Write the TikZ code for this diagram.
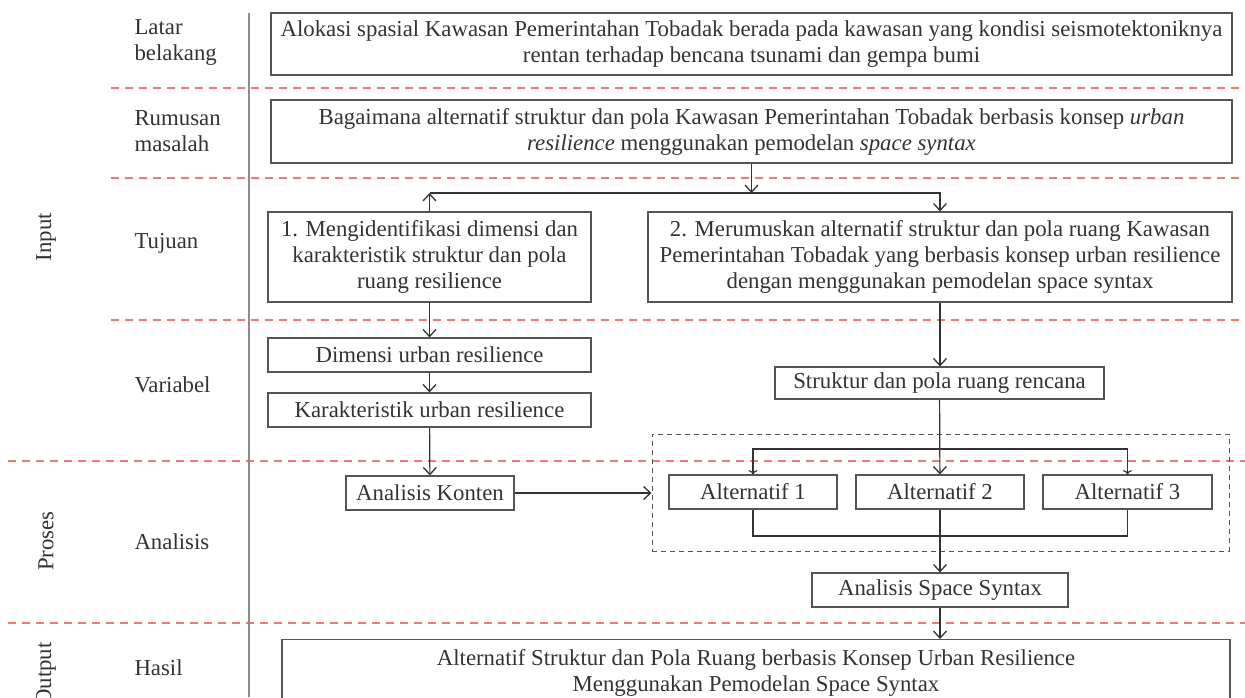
\documentclass[tikz,border=0pt]{standalone}
\usepackage{fontspec}
\setmainfont{Liberation Serif}
\usetikzlibrary{arrows.meta}
\definecolor{linegray}{HTML}{555555}
\definecolor{textgray}{HTML}{333333}
\definecolor{sepred}{HTML}{F07878}
\newcommand{\diagfont}{\fontsize{22.8}{26}\selectfont}
\tikzset{
    box/.style={
        draw=linegray,
        line width=1.2pt,
        text=textgray,
        align=center,
        inner sep=2pt,
        font=\diagfont
    },
    rowlabel/.style={
        anchor=west,
        align=left,
        text=textgray,
        font=\diagfont
    },
    partlabel/.style={
        rotate=90,
        text=textgray,
        font=\diagfont
    },
    flow/.style={
        draw=textgray,
        line width=1.2pt,
        -{Straight Barb[length=7pt,width=13pt,line width=1.3pt]}
    },
    rowline/.style={
        draw=sepred,
        dash pattern=on 8pt off 6pt,
        line width=1.3pt
    },
    groupbox/.style={
        draw=linegray,
        dash pattern=on 5pt off 4pt,
        line width=1pt,
        minimum width=577pt,
        minimum height=117pt
    }
}

\begin{document}
\begin{tikzpicture}[x=1pt,y=-1pt]

    \useasboundingbox (0,0) rectangle (1245,697);
    \clip (0,0) rectangle (1245,697);

    %% Rows and columns
    \foreach \y/\x in {88/111, 178/111, 320/111, 461/8, 623/8}
        \draw[rowline] (\x,\y) -- (1245,\y);
    \draw[draw=gray!90, line width=1.8pt] (249,13) -- (249,697);

    \node (pIn)  [partlabel] at (46,237) {Input};
    \node (pPro) [partlabel] at (46,541) {Proses};
    \node (pOut) [partlabel] at (46,674) {Output};

    \node (rLatar)  [rowlabel] at (131,42) {Latar\\belakang};
    \node (rRumus)  [rowlabel] at (131,131) {Rumusan\\masalah};
    \node (rTujuan) [rowlabel] at (131,243) {Tujuan};
    \node (rVar)    [rowlabel] at (131,385) {Variabel};
    \node (rAnal)   [rowlabel] at (131,542) {Analisis};
    \node (rHasil)  [rowlabel] at (131,668) {Hasil};

    %% Input
    \node (latar) [box,minimum width=961pt,minimum height=62pt] at (751.5,44)
        {Alokasi spasial Kawasan Pemerintahan Tobadak berada pada kawasan yang kondisi seismotektoniknya\\
        rentan terhadap bencana tsunami dan gempa bumi};
    \node (rumus) [box,minimum width=961pt,minimum height=63pt] at (751.5,131.5)
        {Bagaimana alternatif struktur dan pola Kawasan Pemerintahan Tobadak berbasis konsep \emph{urban}\\
        \emph{resilience} menggunakan pemodelan \emph{space syntax}};

    \node (tuj1) [box,minimum width=323pt,minimum height=90pt] at (429.5,257)
        {1. Mengidentifikasi dimensi dan\\karakteristik struktur dan pola\\ruang resilience};
    \node (tuj2) [box,minimum width=584pt,minimum height=90pt] at (940,257)
        {2. Merumuskan alternatif struktur dan pola ruang Kawasan\\
        Pemerintahan Tobadak yang berbasis konsep urban resilience\\
        dengan menggunakan pemodelan space syntax};

    \coordinate (split) at (751.5,193);
    \draw[flow] (rumus.south) -- (split);
    \draw[flow] (tuj1.north) -- (tuj1.north |- split);
    \draw[flow] (tuj1.north |- split) -| (tuj2.north);

    \node (dim)  [box,minimum width=323pt,minimum height=34pt] at (429.5,355) {Dimensi urban resilience};
    \node (kar)  [box,minimum width=323pt,minimum height=34pt] at (429.5,410) {Karakteristik urban resilience};
    \node (rencana) [box,minimum width=329pt,minimum height=32pt] at (939.5,383) {Struktur dan pola ruang rencana};

    \draw[flow] (tuj1) -- (dim);
    \draw[flow] (dim) -- (kar);
    \draw[flow] (tuj2.south) -- (tuj2.south |- rencana.north);

    %% Proses
    \node (grp) [groupbox] at (940.5,492.5) {};
    \node (konten) [box,minimum width=168pt,minimum height=34pt] at (430,493) {Analisis Konten};
    \node (alt1) [box,minimum width=168pt,minimum height=34pt] at (753,492) {Alternatif 1};
    \node (alt2) [box,minimum width=168pt,minimum height=34pt] at (940,492) {Alternatif 2};
    \node (alt3) [box,minimum width=169pt,minimum height=34pt] at (1127.5,492) {Alternatif 3};
    \node (space) [box,minimum width=256pt,minimum height=34pt] at (940,590) {Analisis Space Syntax};

    \coordinate (fan) at (940,449);
    \coordinate (join) at (940,536);
    \draw[flow] (kar) -- (konten);
    \draw[flow] (konten.east) -- (konten.east -| grp.west);
    \draw[flow] (rencana) -- (alt2);
    \draw[flow,<->] (alt1.north) |- (fan) -| (alt3.north);
    \draw[draw=textgray,line width=1.2pt] (alt1.south) |- (join) -| (alt3.south);
    \draw[flow] (alt2) -- (space);

    %% Output
    \node (hasil) [box,minimum width=948pt,minimum height=66pt,anchor=north] at (756,639)
        {Alternatif Struktur dan Pola Ruang berbasis Konsep Urban Resilience\\
        Menggunakan Pemodelan Space Syntax};
    \draw[flow] (space.south) -- (space.south |- hasil.north);

\end{tikzpicture}
\end{document}
